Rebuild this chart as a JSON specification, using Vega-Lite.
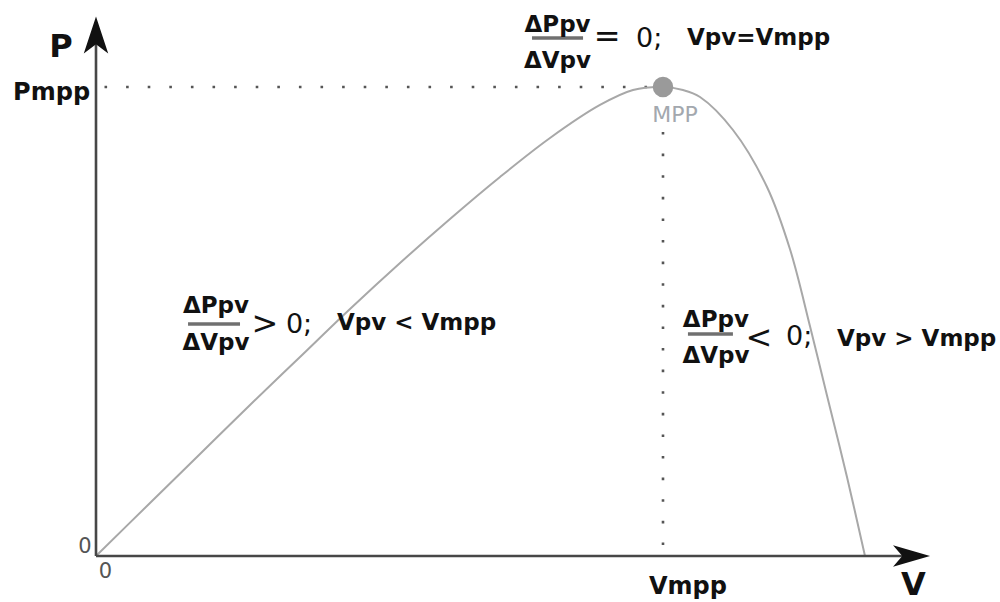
{
  "$schema": "https://vega.github.io/schema/vega-lite/v6.json",
  "width": 1000,
  "height": 602,
  "autosize": {"type": "none"},
  "padding": 0,
  "background": "white",
  "config": {"view": {"stroke": null}},
  "datasets": {
    "curve": [
      {"V": 0, "P": 0},
      {"V": 2.857, "P": 28.25},
      {"V": 5.503, "P": 54.37},
      {"V": 8.148, "P": 80.49},
      {"V": 10.794, "P": 106.08},
      {"V": 13.439, "P": 131.66},
      {"V": 16.085, "P": 156.18},
      {"V": 18.73, "P": 179.64},
      {"V": 21.376, "P": 202.03},
      {"V": 24.021, "P": 222.81},
      {"V": 26.667, "P": 240.41},
      {"V": 28.413, "P": 248.4},
      {"V": 30, "P": 250},
      {"V": 31.058, "P": 248.4},
      {"V": 31.958, "P": 244.67},
      {"V": 33.704, "P": 227.08},
      {"V": 35.503, "P": 196.7},
      {"V": 36.72, "P": 163.5},
      {"V": 37.778, "P": 122.5},
      {"V": 38.677, "P": 85.5},
      {"V": 39.735, "P": 42.11},
      {"V": 40.688, "P": 0}
    ],
    "axes": [
      {"V": 0, "P": 0, "V2": 0, "P2": 275},
      {"V": 0, "P": 0, "V2": 42.8, "P2": 0}
    ],
    "arrows": [
      {"dir": "up", "V": 0, "P": 277.7},
      {"dir": "right", "V": 43.15, "P": 0}
    ],
    "guides": [
      {"V": 0.45, "P": 250, "V2": 29.4, "P2": 250},
      {"V": 30, "P": 226, "V2": 30, "P2": 0}
    ],
    "mpp": [{"V": 30, "P": 250}],
    "bars": [
      {"V": 23.07, "V2": 25.77, "P": 276.1},
      {"V": 4.87, "V2": 7.62, "P": 123.7},
      {"V": 31.32, "V2": 33.7, "P": 118.3}
    ],
    "labels": [
      {"role": "fraction", "V": 24.42, "P": 279.3, "text": "ΔPpv"},
      {"role": "fraction", "V": 24.42, "P": 260.1, "text": "ΔVpv"},
      {"role": "relation", "V": 27.04, "P": 271.3, "text": "="},
      {"role": "value", "V": 28.57, "P": 271.3, "text": "0;"},
      {"role": "condition", "V": 31.27, "P": 272.4, "text": "Vpv=Vmpp"},
      {"role": "fraction", "V": 6.35, "P": 129.5, "text": "ΔPpv"},
      {"role": "fraction", "V": 6.35, "P": 109.8, "text": "ΔVpv"},
      {"role": "relation", "V": 8.94, "P": 118.3, "text": ">"},
      {"role": "value", "V": 10.05, "P": 118.9, "text": "0;"},
      {"role": "condition", "V": 12.75, "P": 120.5, "text": "Vpv < Vmpp"},
      {"role": "fraction", "V": 32.8, "P": 122.1, "text": "ΔPpv"},
      {"role": "fraction", "V": 32.8, "P": 102.9, "text": "ΔVpv"},
      {"role": "relation", "V": 35.08, "P": 110.9, "text": "<"},
      {"role": "value", "V": 36.51, "P": 112.5, "text": "0;"},
      {"role": "condition", "V": 39.21, "P": 111.9, "text": "Vpv > Vmpp"},
      {"role": "axisName", "V": -1.86, "P": 266, "text": "P"},
      {"role": "axisName", "V": 43.25, "P": -21.0, "text": "V"},
      {"role": "tick", "V": -2.35, "P": 243.1, "text": "Pmpp"},
      {"role": "tick", "V": 31.32, "P": -20.3, "text": "Vmpp"},
      {"role": "origin", "V": -0.58, "P": 1.6, "text": "0"},
      {"role": "origin", "V": 0.5, "P": -11.7, "text": "0"},
      {"role": "point", "V": 30.63, "P": 231.3, "text": "MPP"}
    ]
  },
  "encoding": {
    "x": {"field": "V", "type": "quantitative", "axis": null,
          "scale": {"domain": [-5.0794, 47.831], "nice": false, "zero": false}},
    "y": {"field": "P", "type": "quantitative", "axis": null,
          "scale": {"domain": [-24.52, 296.375], "nice": false, "zero": false}}
  },
  "layer": [
    {
      "data": {"name": "guides"},
      "mark": {"type": "rule", "color": "#555555", "strokeWidth": 2.6, "strokeDash": [2.6, 19], "strokeCap": "butt"},
      "encoding": {"x2": {"field": "V2"}, "y2": {"field": "P2"}}
    },
    {
      "data": {"name": "curve"},
      "mark": {"type": "line", "color": "#a8a8a8", "strokeWidth": 2, "interpolate": "catmull-rom"},
      "encoding": {"order": {"field": "V", "type": "quantitative"}}
    },
    {
      "data": {"name": "axes"},
      "mark": {"type": "rule", "color": "#474747", "strokeWidth": 2.6},
      "encoding": {"x2": {"field": "V2"}, "y2": {"field": "P2"}}
    },
    {
      "data": {"name": "arrows"},
      "transform": [{"filter": "datum.dir === 'up'"}],
      "mark": {"type": "point", "filled": true, "color": "#111111", "opacity": 1, "size": 1369,
               "shape": "M0,-1L0.66,1L0,0.5L-0.66,1Z"}
    },
    {
      "data": {"name": "arrows"},
      "transform": [{"filter": "datum.dir === 'right'"}],
      "mark": {"type": "point", "filled": true, "color": "#111111", "opacity": 1, "size": 1369,
               "shape": "M1,0L-1,0.58L-0.5,0L-1,-0.58Z"}
    },
    {
      "data": {"name": "mpp"},
      "mark": {"type": "point", "filled": true, "color": "#9a9a9a", "opacity": 1, "size": 420, "shape": "circle"}
    },
    {
      "data": {"name": "bars"},
      "mark": {"type": "rule", "color": "#707070", "strokeWidth": 3.5},
      "encoding": {"x2": {"field": "V2"}}
    },
    {
      "data": {"name": "labels"},
      "transform": [{"filter": "datum.role === 'fraction'"}],
      "mark": {"type": "text", "font": "DejaVu Sans", "fontWeight": "bold", "fontSize": 23,
               "align": "center", "baseline": "alphabetic", "color": "#111111"},
      "encoding": {"text": {"field": "text"}}
    },
    {
      "data": {"name": "labels"},
      "transform": [{"filter": "datum.role === 'condition'"}],
      "mark": {"type": "text", "font": "DejaVu Sans", "fontWeight": "bold", "fontSize": 23,
               "align": "left", "baseline": "alphabetic", "color": "#111111"},
      "encoding": {"text": {"field": "text"}}
    },
    {
      "data": {"name": "labels"},
      "transform": [{"filter": "datum.role === 'relation'"}],
      "mark": {"type": "text", "font": "DejaVu Sans", "fontSize": 32,
               "align": "center", "baseline": "alphabetic", "color": "#111111"},
      "encoding": {"text": {"field": "text"}}
    },
    {
      "data": {"name": "labels"},
      "transform": [{"filter": "datum.role === 'value'"}],
      "mark": {"type": "text", "font": "DejaVu Sans", "fontSize": 27,
               "align": "left", "baseline": "alphabetic", "color": "#111111"},
      "encoding": {"text": {"field": "text"}}
    },
    {
      "data": {"name": "labels"},
      "transform": [{"filter": "datum.role === 'axisName'"}],
      "mark": {"type": "text", "font": "DejaVu Sans", "fontWeight": "bold", "fontSize": 32,
               "align": "center", "baseline": "alphabetic", "color": "#111111"},
      "encoding": {"text": {"field": "text"}}
    },
    {
      "data": {"name": "labels"},
      "transform": [{"filter": "datum.role === 'tick'"}],
      "mark": {"type": "text", "font": "DejaVu Sans", "fontWeight": "bold", "fontSize": 24,
               "align": "center", "baseline": "alphabetic", "color": "#111111"},
      "encoding": {"text": {"field": "text"}}
    },
    {
      "data": {"name": "labels"},
      "transform": [{"filter": "datum.role === 'origin'"}],
      "mark": {"type": "text", "font": "DejaVu Sans", "fontSize": 21,
               "align": "center", "baseline": "alphabetic", "color": "#555555"},
      "encoding": {"text": {"field": "text"}}
    },
    {
      "data": {"name": "labels"},
      "transform": [{"filter": "datum.role === 'point'"}],
      "mark": {"type": "text", "font": "DejaVu Sans", "fontSize": 22,
               "align": "center", "baseline": "alphabetic", "color": "#a3a8ae"},
      "encoding": {"text": {"field": "text"}}
    }
  ]
}
